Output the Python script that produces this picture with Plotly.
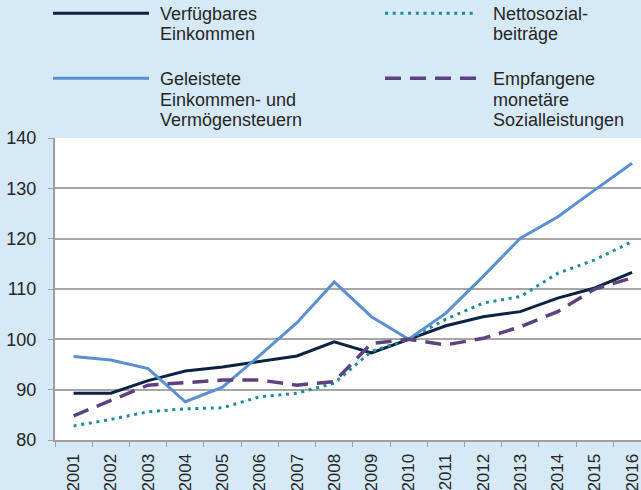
import plotly.graph_objects as go

years = [str(y) for y in range(2001, 2017)]
verfuegbar = [89.3, 89.3, 91.8, 93.7, 94.5, 95.6, 96.7, 99.5, 97.3, 100.0, 102.7, 104.5, 105.5, 108.2, 110.2, 113.3]
geleistet = [96.6, 95.9, 94.2, 87.6, 90.5, 96.8, 103.3, 111.4, 104.5, 100.0, 105.2, 112.5, 120.1, 124.3, 129.7, 135.0]
netto = [82.8, 84.1, 85.6, 86.2, 86.4, 88.6, 89.3, 91.3, 97.6, 100.0, 104.0, 107.2, 108.5, 113.1, 115.8, 119.4]
empfangen = [84.8, 87.9, 90.9, 91.4, 91.9, 91.9, 90.9, 91.6, 99.2, 100.0, 98.9, 100.2, 102.5, 105.5, 110.0, 112.2]
y_ticks = [80, 90, 100, 110, 120, 130, 140]

names = [["Verfügbares", "Einkommen"], ["Nettosozial-", "beiträge"],
         ["Geleistete", "Einkommen- und", "Vermögensteuern"], ["Empfangene", "monetäre", "Sozialleistungen"]]
colors = ["#0b2341", "#1c8c9c", "#5a8fd2", "#5c4380"]
dashes = ["solid", "3px,4.7px", "solid", "16px,9px"]
widths = [3, 3, 3, 3.5]
series = [verfuegbar, netto, geleistet, empfangen]

W, H = 641, 490
L, R, T, B = 55, 0, 138, 50
pw, ph = W - L - R, H - T - B

def px2x(px):
    return (px - L) / pw

def py2y(py):
    return (H - B - py) / ph

fig = go.Figure()
for s, c, d, w, n in zip(series, colors, dashes, widths, names):
    fig.add_trace(go.Scatter(x=years, y=s, mode="lines", name=" ".join(n),
                             line=dict(color=c, dash=d, width=w), showlegend=False))

font_family = "Liberation Sans, Arial, sans-serif"
txt_color = "#262626"

# manual legend (two columns), one annotation per text line
legend_pos = [(53, 149, 158, 13.3), (385, 477, 491, 13.3), (53, 149, 158, 78.3), (385, 477, 491, 78.3)]
line_gap = 20.5
for (x0, x1, tx, ly), c, d, w, n in zip(legend_pos, colors, dashes, widths, names):
    fig.add_shape(type="line", xref="paper", yref="paper",
                  x0=px2x(x0), x1=px2x(x1), y0=py2y(ly), y1=py2y(ly),
                  line=dict(color=c, dash=d, width=w))
    for i, t in enumerate(n):
        fig.add_annotation(xref="paper", yref="paper", x=px2x(tx), y=py2y(ly + 0.7 + i * line_gap),
                           xanchor="left", yanchor="middle", align="left", showarrow=False,
                           text=t, font=dict(size=18, color=txt_color, family=font_family))

fig.update_layout(
    width=W, height=H,
    margin=dict(l=L, r=R, t=T, b=B),
    paper_bgcolor="#d5e9f7",
    plot_bgcolor="#ffffff",
    font=dict(family=font_family, color=txt_color, size=18),
    showlegend=False,
)
fig.update_xaxes(type="category", range=[-0.5, 15.24], tickangle=-90, automargin=False,
                 tickson="boundaries", ticks="outside", ticklen=5, tickcolor="#a0a0a0",
                 showline=True, linecolor="#a0a0a0", linewidth=2,
                 showgrid=False, tickfont=dict(size=17), ticklabelstandoff=5)
fig.update_yaxes(range=[80, 140], tickvals=y_ticks, ticks="outside", ticklen=5, automargin=False,
                 tickcolor="#a0a0a0", showline=True, linecolor="#a0a0a0", linewidth=2,
                 gridcolor="#a6a6a6", gridwidth=2, zeroline=False,
                 tickfont=dict(size=18), ticklabelstandoff=8)

fig.write_html("out.html", config={"displayModeBar": False},
               post_script="document.body.style.margin='0px';document.body.style.overflow='hidden';")
